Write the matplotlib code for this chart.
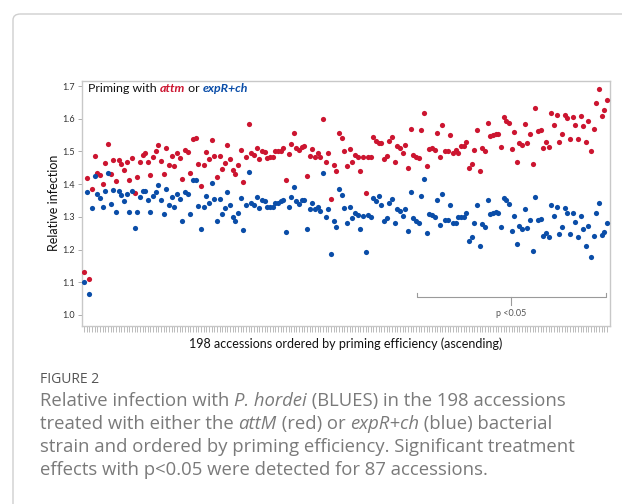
import matplotlib
matplotlib.use("Agg")
import matplotlib.pyplot as plt
from matplotlib.patches import FancyBboxPatch

# ---------------- data ----------------
attm_red = [
    1.13, 1.42, 1.11, 1.384, 1.487, 1.435, 1.428, 1.400, 1.464, 1.522, 1.431, 1.474, 1.410, 1.474, 1.462,
    1.443, 1.469, 1.413, 1.481, 1.372, 1.421, 1.469, 1.489, 1.494, 1.467, 1.428, 1.484, 1.500, 1.519,
    1.472, 1.431, 1.509, 1.459, 1.486, 1.456, 1.494, 1.479, 1.415, 1.505, 1.498, 1.435, 1.539, 1.541,
    1.462, 1.394, 1.459, 1.497, 1.476, 1.535, 1.487, 1.421, 1.486, 1.445, 1.466, 1.519, 1.476, 1.443,
    1.431, 1.458, 1.503, 1.406, 1.482, 1.584, 1.494, 1.489, 1.510, 1.477, 1.502, 1.498, 1.479, 1.482,
    1.484, 1.500, 1.500, 1.502, 1.510, 1.413, 1.491, 1.523, 1.556, 1.509, 1.503, 1.513, 1.517, 1.425, 1.487,
    1.507, 1.484, 1.494, 1.484, 1.600, 1.467, 1.494, 1.356, 1.459, 1.440, 1.556, 1.542, 1.502, 1.456,
    1.507, 1.469, 1.489, 1.484, 1.439, 1.484, 1.374, 1.484, 1.484, 1.543, 1.533, 1.525, 1.525, 1.476,
    1.486, 1.532, 1.545, 1.467, 1.517, 1.510, 1.496, 1.520, 1.450, 1.570, 1.489, 1.484, 1.479, 1.564,
    1.617, 1.454, 1.507, 1.512, 1.505, 1.556, 1.482, 1.581, 1.500, 1.500, 1.550, 1.494, 1.505, 1.496,
    1.517, 1.517, 1.528, 1.449, 1.462, 1.505, 1.564, 1.441, 1.512, 1.500, 1.588, 1.547, 1.550, 1.554,
    1.553, 1.513, 1.605, 1.594, 1.588, 1.508, 1.558, 1.469, 1.527, 1.520, 1.583, 1.525, 1.554, 1.462,
    1.632, 1.561, 1.566, 1.510, 1.528, 1.513, 1.617, 1.581, 1.612, 1.528, 1.554, 1.612, 1.601, 1.537,
    1.605, 1.581, 1.537, 1.607, 1.578, 1.528, 1.594, 1.500, 1.570, 1.649, 1.690, 1.609, 1.627, 1.658,
]
expr_blue = [
    1.101, 1.376, 1.063, 1.328, 1.424, 1.369, 1.358, 1.329, 1.378, 1.435, 1.339, 1.382, 1.315, 1.380, 1.366,
    1.347, 1.369, 1.315, 1.379, 1.267, 1.315, 1.360, 1.378, 1.380, 1.352, 1.315, 1.365, 1.377, 1.397,
    1.350, 1.309, 1.384, 1.335, 1.362, 1.329, 1.369, 1.355, 1.288, 1.377, 1.370, 1.308, 1.412, 1.412,
    1.333, 1.264, 1.329, 1.365, 1.341, 1.403, 1.354, 1.288, 1.354, 1.309, 1.327, 1.377, 1.335, 1.301,
    1.288, 1.311, 1.357, 1.260, 1.336, 1.437, 1.343, 1.336, 1.360, 1.328, 1.350, 1.347, 1.329, 1.329,
    1.329, 1.343, 1.343, 1.347, 1.352, 1.254, 1.331, 1.362, 1.392, 1.347, 1.339, 1.352, 1.352, 1.263, 1.324,
    1.343, 1.323, 1.329, 1.318, 1.433, 1.299, 1.324, 1.186, 1.288, 1.268, 1.384, 1.368, 1.327, 1.282,
    1.331, 1.295, 1.313, 1.305, 1.262, 1.303, 1.193, 1.305, 1.299, 1.357, 1.349, 1.364, 1.336, 1.288,
    1.296, 1.341, 1.354, 1.280, 1.325, 1.318, 1.303, 1.325, 1.256, 1.377, 1.296, 1.288, 1.282, 1.365,
    1.415, 1.250, 1.309, 1.306, 1.301, 1.350, 1.274, 1.370, 1.291, 1.291, 1.336, 1.282, 1.280, 1.299,
    1.299, 1.299, 1.311, 1.227, 1.238, 1.280, 1.337, 1.212, 1.278, 1.268, 1.352, 1.309, 1.311, 1.314,
    1.311, 1.268, 1.357, 1.350, 1.339, 1.256, 1.304, 1.216, 1.272, 1.262, 1.325, 1.267, 1.291, 1.196,
    1.362, 1.291, 1.293, 1.240, 1.252, 1.237, 1.336, 1.303, 1.331, 1.247, 1.268, 1.326, 1.313, 1.248,
    1.313, 1.285, 1.238, 1.304, 1.263, 1.211, 1.273, 1.176, 1.240, 1.311, 1.341, 1.245, 1.254, 1.280,
]
accessions = list(range(len(attm_red)))
y_ticks = [1.0, 1.1, 1.2, 1.3, 1.4, 1.5, 1.6, 1.7]
y_tick_labels = ["1.0", "1.1", "1.2", "1.3", "1.4", "1.5", "1.6", "1.7"]
sig_start, sig_end = 125.3, 196.5   # accessions with p<0.05 (bracket span)

RED = "#CC1530"
BLUE = "#0A4DA8"

W, H = 622, 504
fig = plt.figure(figsize=(W / 100, H / 100), dpi=100)
renderer = fig.canvas.get_renderer()

# outer frame
frame = FancyBboxPatch((13 / W, 1 - 800 / H), 900 / W, 786 / H,
                       boxstyle="round,pad=0,rounding_size=0.012",
                       transform=fig.transFigure, fill=False,
                       edgecolor="#cfcfcf", linewidth=1.0)
fig.patches.append(frame)

# ---------------- axes ----------------
ax = fig.add_axes([82 / W, 1 - 326 / H, (610 - 82) / W, (326 - 80.5) / H])
ax.scatter(accessions, attm_red, s=14, color=RED, linewidths=0, zorder=3)
ax.scatter(accessions, expr_blue, s=14, color=BLUE, linewidths=0, zorder=3)

ax.set_xlim(-0.8, 198.1)
ax.set_ylim(1.0 - 11 / 327, 1.7 + 5.5 / 327)
ax.set_yticks(y_ticks)
ax.set_yticklabels(y_tick_labels, fontsize=6.5, color="#333333", family="Lato")
ax.set_xticks(accessions)
ax.set_xticklabels([])
ax.tick_params(axis="x", length=4, width=0.5, color="#a0a0a0", direction="out")
ax.tick_params(axis="y", length=3, width=0.6, color="#a0a0a0", direction="out", pad=2)
for sp in ax.spines.values():
    sp.set_color("#c8c8c8")
    sp.set_linewidth(1.0)

ax.set_ylabel("Relative infection", fontsize=9, family="Lato", color="#111111", labelpad=2)
ax.set_xlabel("198 accessions ordered by priming efficiency (ascending)", fontsize=9,
              family="Lato", color="#111111", labelpad=1)

# significance bracket
yl, yup, ydn = 1.055, 1.067, 1.031
ax.plot([sig_start, sig_start, sig_end, sig_end], [yup, yl, yl, yup], color="#9a9a9a", lw=0.8)
mid = (sig_start + sig_end) / 2
ax.plot([mid, mid], [yl, ydn], color="#9a9a9a", lw=0.8)
ax.text(mid, 1.006, "p <0.05", ha="center", va="center", fontsize=6.5, color="#555555", family="Lato")


# ---------------- helpers for mixed-style text ----------------
def text_width(s, **kw):
    t1 = fig.text(0, 0, "|" + s + "|", **kw)
    w1 = t1.get_window_extent(renderer).width
    t1.remove()
    t2 = fig.text(0, 0, "||", **kw)
    w2 = t2.get_window_extent(renderer).width
    t2.remove()
    return w1 - w2


def seq_text(x, y, parts, **common):
    for s, extra in parts:
        kw = dict(common)
        kw.update(extra)
        fig.text(x / W, 1 - y / H, s, ha="left", va="baseline", **kw)
        x += text_width(s, **kw)


# title inside the plot
seq_text(88, 92, [
    ("Priming with ", {}),
    ("attm", {"color": RED, "style": "italic", "weight": "bold"}),
    (" or ", {}),
    ("expR+ch", {"color": BLUE, "style": "italic", "weight": "bold"}),
], fontsize=8.9, family="Lato", color="#111111")

# caption
fig.text(40 / W, 1 - 383 / H, "FIGURE 2", fontsize=10, family="Open Sans", color="#555555",
         ha="left", va="baseline")
cap = dict(fontsize=13.3, family="Open Sans", color="#7a7a7a")
it = {"style": "italic"}
seq_text(40, 406, [("Relative infection with ", {}), ("P. hordei", it),
                   (" (BLUES) in the 198 accessions", {})], **cap)
seq_text(40, 429, [("treated with either the ", {}), ("attM", it), (" (red) or ", {}),
                   ("expR+ch", it), (" (blue) bacterial", {})], **cap)
seq_text(40, 452, [("strain and ordered by priming efficiency. Significant treatment", {})], **cap)
seq_text(40, 475, [("effects with p<0.05 were detected for 87 accessions.", {})], **cap)

fig.savefig("out.png", dpi=100)
